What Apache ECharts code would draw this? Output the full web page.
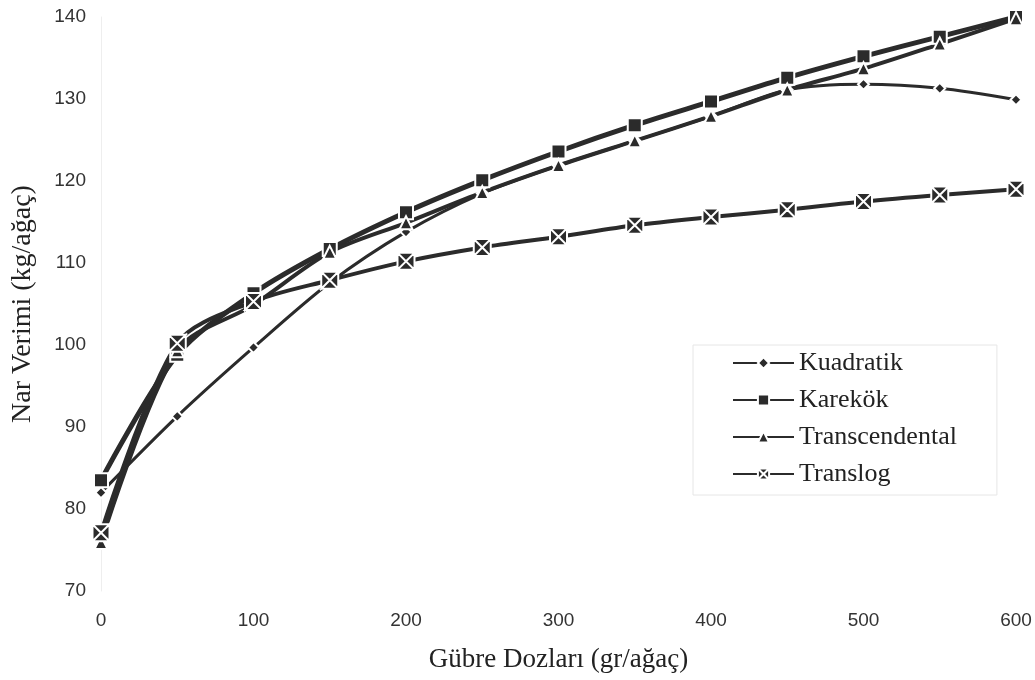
<!DOCTYPE html>
<html>
<head>
<meta charset="utf-8">
<script src="https://cdn.jsdelivr.net/npm/echarts@6/dist/echarts.min.js"></script>
<style>html,body{margin:0;padding:0;background:#fff;}#c{width:1035px;height:680px;}</style>
</head>
<body>
<div id="c"></div>
<script>
const doses = [0, 50, 100, 150, 200, 250, 300, 350, 400, 450, 500, 550, 600];
const kuadratik = [82.0, 91.3, 99.7, 107.6, 113.8, 118.5, 121.9, 124.9, 127.9, 131.1, 131.8, 131.3, 129.9];
const karekok = [83.5, 98.8, 106.3, 111.7, 116.2, 120.1, 123.6, 126.8, 129.7, 132.6, 135.2, 137.6, 140.0];
const transcendental = [75.9, 99.3, 104.9, 111.3, 114.9, 118.6, 121.9, 124.9, 127.9, 131.1, 133.7, 136.7, 139.8];
const translog = [77.1, 100.2, 105.3, 107.9, 110.2, 111.9, 113.2, 114.6, 115.6, 116.5, 117.5, 118.3, 119.0];
const xTicks = [0, 100, 200, 300, 400, 500, 600];
const yTicks = [70, 80, 90, 100, 110, 120, 130, 140];

const pair = arr => doses.map((d, i) => [d, arr[i]]);
const dark = '#2b2b2b';
const xSym = 'path://M0,0L10,0L5,5Z M10,0L10,10L5,5Z M10,10L0,10L5,5Z M0,10L0,0L5,5Z';

function ser(name, arr, symbol, size, width) {
  return {
    name, type: 'line', data: pair(arr), smooth: 0.3,
    symbol, symbolSize: size,
    lineStyle: { color: dark, width },
    itemStyle: { color: dark, borderColor: '#fff', borderWidth: 2 },
    emphasis: { disabled: true }
  };
}

const chart = echarts.init(document.getElementById('c'));
chart.setOption({
  animation: false,
  backgroundColor: '#fff',
  grid: { left: 101, right: 19, top: 17, bottom: 89 },
  legend: {
    orient: 'vertical', left: 693, top: 345,
    data: ['Kuadratik', 'Karekök', 'Transcendental', 'Translog'],
    itemWidth: 61, itemHeight: 14, itemGap: 11,
    padding: [5, 40, 8, 39],
    borderColor: '#e6e6e6', borderWidth: 1,
    textStyle: { fontFamily: 'Liberation Serif', fontSize: 26, lineHeight: 26, color: '#222' }
  },
  xAxis: {
    type: 'value', min: 0, max: 600, interval: 100,
    name: 'Gübre Dozları (gr/ağaç)', nameLocation: 'middle', nameGap: 55,
    nameTextStyle: { fontFamily: 'Liberation Serif', fontSize: 27, color: '#222' },
    axisLine: { show: false }, axisTick: { show: false }, splitLine: { show: false },
    axisLabel: { fontFamily: 'Liberation Sans', fontSize: 19, color: '#333', margin: 20 }
  },
  yAxis: {
    type: 'value', min: 70, max: 140, interval: 10,
    name: 'Nar Verimi (kg/ağaç)', nameLocation: 'middle', nameGap: 64,
    nameTextStyle: { fontFamily: 'Liberation Serif', fontSize: 28, color: '#222' },
    axisLine: { show: true, lineStyle: { color: '#eeeeee', width: 1 } },
    axisTick: { show: false }, splitLine: { show: false },
    axisLabel: { fontFamily: 'Liberation Sans', fontSize: 19, color: '#333', margin: 15 }
  },
  series: [
    ser('Kuadratik', kuadratik, 'diamond', 11, 3),
    ser('Karekök', karekok, 'rect', 14, 5),
    ser('Transcendental', transcendental, 'triangle', 13, 4),
    ser('Translog', translog, xSym, 17, 4)
  ]
});
</script>
</body>
</html>
